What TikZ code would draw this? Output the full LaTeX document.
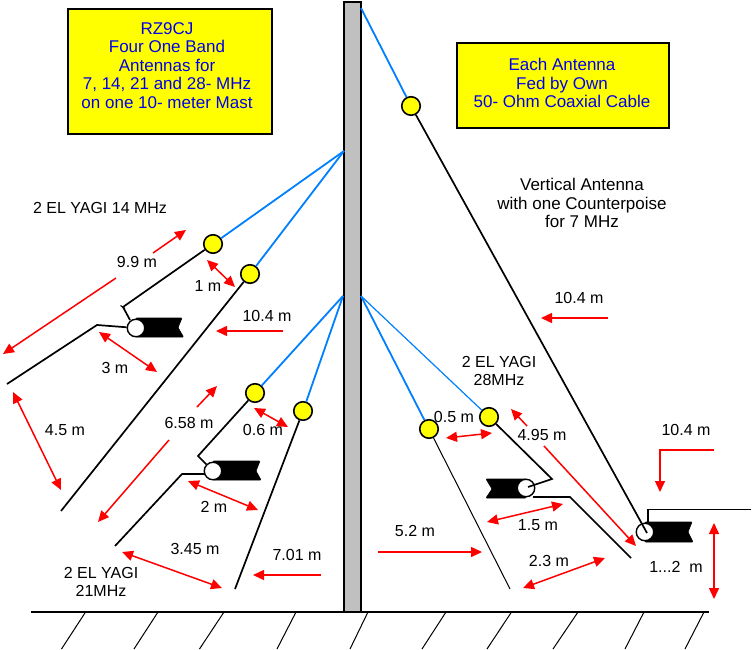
\documentclass[tikz,border=0pt]{standalone}
\usepackage{fontspec}
\setmainfont{Liberation Sans}
\usetikzlibrary{arrows.meta}
\definecolor{boxyellow}{RGB}{255,255,0}
\definecolor{wireblue}{RGB}{0,128,255}
\definecolor{textblue}{RGB}{0,0,235}
\definecolor{mastgray}{RGB}{192,192,192}
\tikzset{
  insulator/.style={circle,draw=black,line width=1.6pt,fill=boxyellow,minimum size=18.5pt,inner sep=0pt},
  feedpoint/.style={circle,draw=black,line width=1.4pt,fill=white,minimum size=17.5pt,inner sep=0pt},
  infobox/.style={draw=black,line width=1.6pt,fill=boxyellow,inner sep=0pt,anchor=north west},
  lab/.style={font=\fontsize{16}{18.4}\selectfont,align=center,text=black,inner sep=0pt},
  biglab/.style={font=\fontsize{17}{18.4}\selectfont,align=center,text=black,inner sep=0pt},
  guy/.style={wireblue,line width=1.8pt},
  wire/.style={black,line width=1.7pt},
  thinwire/.style={black,line width=1pt},
  hatch/.style={black,line width=1pt},
  dim/.style={red,line width=1.5pt,-{Triangle[length=11pt,width=10pt]}},
  dimboth/.style={red,line width=1.5pt,{Triangle[length=11pt,width=10pt]}-{Triangle[length=11pt,width=10pt]}},
  coax/.style={black,fill=black,line width=0.6pt,rounded corners=0.8pt}
}
\begin{document}
\begin{tikzpicture}[x=1pt,y=-1pt]
\useasboundingbox (0,0) rectangle (752,650);
% ground hatching
\foreach \a/\b in {85.6/61.5,158/134,224/199.5,296/277,368/350,446/422,511.5/487,578/553,644/625,704/685}
  \draw[hatch] (\a,612) -- (\b,649);
% mast
\draw[black,line width=2pt,fill=mastgray] (343.5,612) -- (343.5,2.5) -- (360.5,2.5) -- (360.5,612);
\draw[black,line width=2pt] (31,612) -- (709,612);
% anchor points on mast
\coordinate (mA) at (361,8);
\coordinate (mB) at (344,151);
\coordinate (mC) at (343,296);
\coordinate (mD) at (361,296);
% text boxes
\node[infobox,minimum width=204pt,minimum height=125pt] (boxL) at (67,8) {};
\node[biglab,text=textblue] at (167,65.5) {RZ9CJ\\Four One Band\\Antennas for\\7, 14, 21 and 28- MHz\\on one 10- meter Mast};
\node[infobox,minimum width=212pt,minimum height=85pt] (boxR) at (456,42) {};
\node[biglab,text=textblue] at (562,83) {Each Antenna\\Fed by Own\\50- Ohm Coaxial Cable};
% coax bodies
\draw[coax] (136,318) -- (182,318) -- (178,327.5) -- (183.5,337) -- (136,337) -- cycle;
\draw[coax] (213,461) -- (260,461) -- (256,471) -- (261,480) -- (213,480) -- cycle;
\draw[coax] (526,479) -- (486,479) -- (492,489) -- (486,498) -- (526,498) -- cycle;
\draw[coax] (645,522) -- (692,522) -- (688,532) -- (693,542) -- (645,542) -- cycle;
% feed points
\node[feedpoint] (f14) at (136,328) {};
\node[feedpoint] (f21) at (213,471) {};
\node[feedpoint] (f28) at (526,488) {};
\node[feedpoint] (f7) at (645,532) {};
% insulators
\node[insulator] (i14a) at (213,244) {};
\node[insulator] (i14b) at (250,274) {};
\node[insulator] (i21a) at (255,393) {};
\node[insulator] (i21b) at (303,411) {};
\node[insulator] (i7) at (411,106) {};
\node[insulator] (i28a) at (429,429) {};
\node[insulator] (i28b) at (489,417) {};
\draw[guy] (mB) -- (i14a);
\draw[guy] (mB) -- (i14b);
\draw[guy] (mC) -- (i21a);
\draw[guy] (mC) -- (i21b);
\draw[guy] (mA) -- (i7);
\draw[guy] (mD) -- (i28a);
\draw[guy,line width=1.2pt] (mD) -- (i28b);
% free ends
\coordinate (e14b) at (61,511);
\coordinate (e21b) at (235,589);
\coordinate (e28b) at (510,589);
% elements 14
\draw[wire] (i14a) -- (123,307) -- (130,320);
\draw[thinwire] (120.5,305.5) -- (125,308.5);
\draw[wire] (7,384) -- (97,325) -- (f14);
\draw[wire] (i14b) -- (e14b);
% elements 21
\draw[wire] (i21a) -- (198,456) -- (f21);
\draw[wire] (115,546) -- (182,474) -- (205,474);
\draw[wire] (i21b) -- (e21b);
% elements 28
\draw[wire] (i28b) -- (552,479) -- (528,487);
\draw[wire] (533,497) -- (570,497) -- (631,558);
\draw[thinwire] (i28a) -- (e28b);
% vertical
\draw[wire] (i7) -- (647,533);
\draw[wire] (648,522) -- (648,509.5) -- (751,509.5);
% dimension arrows
\draw[dim] (153,253) -- (186,230);
\draw[dim] (116,278) -- (3,354);
\draw[dimboth] (207,260) -- (235,287);
\draw[dim] (283,331) -- (216,331);
\draw[dimboth] (99,332) -- (157,372);
\draw[dimboth] (13,392) -- (61,490);
\draw[dim] (197,407) -- (217,386);
\draw[dim] (169,440) -- (98,522);
\draw[dimboth] (254,408) -- (288,427);
\draw[dimboth] (188,481) -- (258,510);
\draw[dimboth] (122,552) -- (222,588);
\draw[dim] (321,575) -- (253,575);
\draw[dimboth] (446,438) -- (492,433);
\draw[dim] (527,426) -- (511,409);
\draw[dim] (544,446) -- (636,546);
\draw[dimboth] (487,522) -- (563,504);
\draw[dim] (378,552) -- (482,552);
\draw[dimboth] (523,588) -- (605,558);
\draw[dim] (714,450) -- (660,450) -- (660,492);
\draw[dimboth] (714,523) -- (714,599);
\draw[dim] (608,318) -- (541,318);
% labels
\node[lab] at (100,208) {2 EL YAGI 14 MHz};
\node[lab] at (137,262) {9.9 m};
\node[lab] at (208,286) {1 m};
\node[lab] at (267,316) {10.4 m};
\node[lab] at (115,368) {3 m};
\node[lab] at (65,430) {4.5 m};
\node[lab] at (189,423) {6.58 m};
\node[lab] at (263,430) {0.6 m};
\node[lab] at (214,507) {2 m};
\node[lab] at (195,549) {3.45 m};
\node[lab] at (297,555) {7.01 m};
\node[lab] at (101,582) {2 EL YAGI\\21MHz};
\node[lab] at (415,531) {5.2 m};
\node[lab] at (454,417) {0.5 m};
\node[lab] at (499,371) {2 EL YAGI\\28MHz};
\node[lab] at (542,435) {4.95 m};
\node[lab] at (686,430) {10.4 m};
\node[lab] at (538,525) {1.5 m};
\node[lab] at (549,561) {2.3 m};
\node[lab] at (676,567) {1...2~~m};
\node[biglab] at (582,203) {Vertical Antenna\\with one Counterpoise\\for 7 MHz};
\node[lab] at (579,298) {10.4 m};
\end{tikzpicture}
\end{document}
